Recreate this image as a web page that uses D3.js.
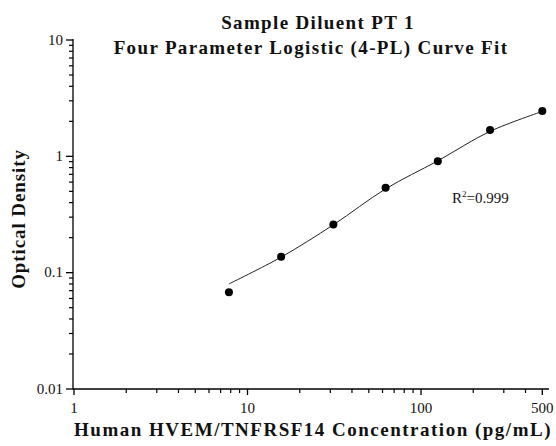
<!DOCTYPE html>
<html><head><meta charset="utf-8">
<script src="https://cdn.jsdelivr.net/npm/d3@7/dist/d3.min.js"></script>
<style>body{margin:0;background:#fff}svg{display:block}</style>
</head><body><svg id="c" width="556" height="446"></svg>
<script>
const concentrations = [7.8125, 15.625, 31.25, 62.5, 125, 250, 500];
const opticalDensity = [0.068, 0.137, 0.260, 0.537, 0.906, 1.68, 2.45];
const fitCurve = [0.080, 0.136, 0.258, 0.525, 0.915, 1.64, 2.43];
const xTickLabels = [1, 10, 100, 500];
const yTickLabels = [0.01, 0.1, 1, 10];
const titleLines = ["Sample Diluent PT 1", "Four Parameter Logistic (4-PL) Curve Fit"];
const xTitle = "Human HVEM/TNFRSF14 Concentration (pg/mL)";
const yTitle = "Optical Density";

const svg = d3.select("#c");
const x = d3.scaleLog().domain([1, 500]).range([74, 542.3]);
const y = d3.scaleLog().domain([0.01, 10]).range([389, 40]);
const serif = "'Liberation Serif','Times New Roman',serif";

// minor ticks
const xMinor = [];
for (let d = 1; d <= 100; d *= 10) for (let k = 2; k <= 9; k++) if (d * k <= 500) xMinor.push(d * k);
const yMinor = [];
for (let d = 0.01; d < 10; d *= 10) for (let k = 2; k <= 9; k++) yMinor.push(+(d * k).toPrecision(3));

const xAxisG = svg.append("g").attr("transform", "translate(0,389)");
xAxisG.append("line").attr("x1", 73).attr("x2", 549).attr("stroke", "#000").attr("stroke-width", 1.3);
xAxisG.selectAll("line.mn").data(xMinor.filter(v => !xTickLabels.includes(v))).join("line")
  .attr("x1", d => x(d)).attr("x2", d => x(d)).attr("y1", 0).attr("y2", 4).attr("stroke", "#000").attr("stroke-width", 1.2);
xAxisG.selectAll("line.mj").data(xTickLabels).join("line")
  .attr("x1", d => x(d)).attr("x2", d => x(d)).attr("y1", 0).attr("y2", 6).attr("stroke", "#000").attr("stroke-width", 1.3);
xAxisG.selectAll("text").data(xTickLabels).join("text")
  .attr("x", d => x(d)).attr("y", 24).attr("text-anchor", "middle")
  .attr("font-family", serif).attr("font-size", 15).attr("fill", "#111").text(d => d);

const yAxisG = svg.append("g").attr("transform", "translate(73,0)");
yAxisG.append("line").attr("y1", 39).attr("y2", 389.6).attr("stroke", "#000").attr("stroke-width", 1.3);
yAxisG.selectAll("line.mn").data(yMinor).join("line")
  .attr("y1", d => y(d)).attr("y2", d => y(d)).attr("x1", 0).attr("x2", -4).attr("stroke", "#000").attr("stroke-width", 1.2);
yAxisG.selectAll("line.mj").data(yTickLabels).join("line")
  .attr("y1", d => y(d)).attr("y2", d => y(d)).attr("x1", 0).attr("x2", -7).attr("stroke", "#000").attr("stroke-width", 1.3);
yAxisG.selectAll("text").data(yTickLabels).join("text")
  .attr("x", -10).attr("y", d => y(d) + 4.5).attr("text-anchor", "end")
  .attr("font-family", serif).attr("font-size", 15).attr("fill", "#111").text(d => d);

// fitted curve
const line = d3.line().x(d => x(d[0])).y(d => y(d[1])).curve(d3.curveCatmullRom);
svg.append("path").datum(concentrations.map((c, i) => [c, fitCurve[i]]))
  .attr("d", line).attr("fill", "none").attr("stroke", "#222").attr("stroke-width", 1);

// points
svg.selectAll("circle").data(concentrations.map((c, i) => [c, opticalDensity[i]])).join("circle")
  .attr("cx", d => x(d[0])).attr("cy", d => y(d[1])).attr("r", 4).attr("fill", "#000");

// titles
svg.selectAll("text.title").data(titleLines).join("text").attr("class", "title")
  .attr("x", (d, i) => i === 0 ? 318 : 311).attr("y", (d, i) => 29 + i * 25).attr("text-anchor", "middle")
  .attr("font-family", serif).attr("font-weight", "bold").attr("font-size", 19)
  .attr("letter-spacing", 1.35).attr("fill", "#111").text(d => d);

svg.append("text").attr("x", 313).attr("y", 436).attr("text-anchor", "middle")
  .attr("font-family", serif).attr("font-weight", "bold").attr("font-size", 19)
  .attr("letter-spacing", 1.5).attr("fill", "#111").text(xTitle);

svg.append("text").attr("transform", "translate(25,219) rotate(-90)").attr("text-anchor", "middle")
  .attr("font-family", serif).attr("font-weight", "bold").attr("font-size", 19)
  .attr("letter-spacing", 0.9).attr("fill", "#111").text(yTitle);

const r2 = svg.append("text").attr("x", 452).attr("y", 203)
  .attr("font-family", serif).attr("font-size", 15).attr("fill", "#111");
r2.append("tspan").text("R");
r2.append("tspan").attr("dy", -6).attr("font-size", 9).text("2");
r2.append("tspan").attr("dy", 6).text("=0.999");
</script></body></html>
